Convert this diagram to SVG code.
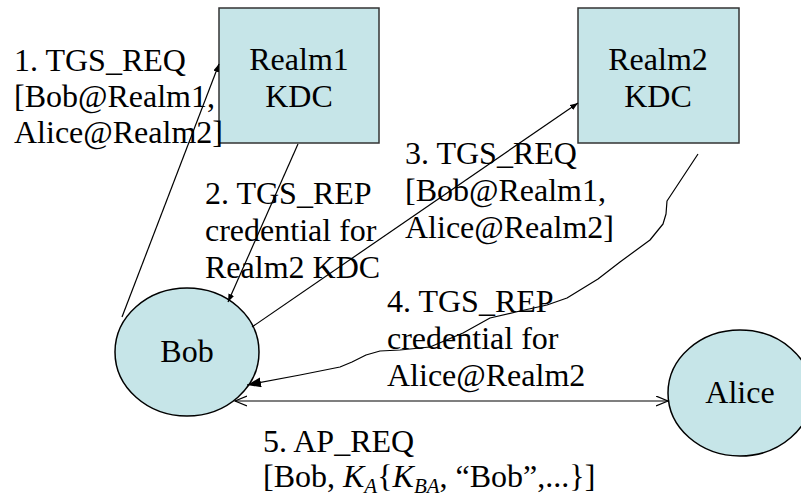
<svg xmlns="http://www.w3.org/2000/svg" width="801" height="502" viewBox="0 0 801 502">
  <style>
    .box { fill: #c6e5e8; stroke: #333; stroke-width: 1.5; }
    .party { fill: #c6e5e8; stroke: #000; stroke-width: 1.5; }
    text { font-size: 32px; fill: #000; }
    .mid { text-anchor: middle; }
    .wire { fill: none; stroke: #000; stroke-width: 1.2; stroke-linejoin: round; }
  </style>
  <defs>
    <marker id="headSmall" markerUnits="userSpaceOnUse" markerWidth="9" markerHeight="7" refX="8" refY="3" orient="auto">
      <path d="M0,0 L8,3 L0,6 z" fill="#000"/>
    </marker>
    <marker id="headLarge" markerUnits="userSpaceOnUse" markerWidth="15" markerHeight="11" refX="14" refY="5" orient="auto">
      <path d="M0,0 L14,5 L0,10 z" fill="#000"/>
    </marker>
    <marker id="headOpen" markerUnits="userSpaceOnUse" markerWidth="14" markerHeight="12" refX="12" refY="5.5" orient="auto-start-reverse">
      <path d="M0,0.5 L12,5.5 L0,10.5" fill="none" stroke="#000" stroke-width="1.2"/>
    </marker>
  </defs>

  <g font-family="'Liberation Serif', 'DejaVu Serif', serif">
    <g id="realm1-kdc">
      <rect class="box" x="219" y="8" width="160" height="135"/>
      <text class="mid" x="299" y="70">Realm1</text>
      <text class="mid" x="299" y="107">KDC</text>
    </g>

    <g id="realm2-kdc">
      <rect class="box" x="578" y="8" width="161" height="135"/>
      <text class="mid" x="658" y="70">Realm2</text>
      <text class="mid" x="658" y="107">KDC</text>
    </g>

    <g id="bob">
      <ellipse class="party" cx="187" cy="352" rx="72" ry="64"/>
      <text class="mid" x="187" y="362">Bob</text>
    </g>

    <g id="alice">
      <ellipse class="party" cx="740" cy="393" rx="72" ry="63"/>
      <text class="mid" x="740" y="403">Alice</text>
    </g>

    <g id="connectors">
      <!-- 1: Bob to Realm1 KDC -->
      <line class="wire" x1="122" y1="317" x2="219" y2="64" marker-end="url(#headSmall)"/>
      <!-- 2: Realm1 KDC to Bob -->
      <line class="wire" x1="298" y1="144" x2="228" y2="302" marker-end="url(#headSmall)"/>
      <!-- 3: Bob to Realm2 KDC -->
      <line class="wire" x1="252" y1="327" x2="578" y2="103" marker-end="url(#headSmall)"/>
      <!-- 4: Realm2 KDC back to Bob, hand-drawn curve -->
      <polyline class="wire" marker-end="url(#headLarge)"
        points="698,154 667,201 666,214 663,224 650,240 620,262 598,279 567,298 547,305 520,311 490,318 463,333 430,347 400,350 380,351 366,355 352,362 340,367 300,375 247,385"/>
      <!-- 5: Bob and Alice, both directions -->
      <line class="wire" x1="235" y1="401" x2="668" y2="401" marker-start="url(#headOpen)" marker-end="url(#headOpen)"/>
    </g>

    <g id="labels">
      <text x="14" y="71">1. TGS_REQ</text>
      <text x="14" y="107">[Bob@Realm1,</text>
      <text x="14" y="143">Alice@Realm2]</text>

      <text x="205" y="204">2. TGS_REP</text>
      <text x="205" y="241">credential for</text>
      <text x="205" y="278">Realm2 KDC</text>

      <text x="405" y="164">3. TGS_REQ</text>
      <text x="405" y="201">[Bob@Realm1,</text>
      <text x="405" y="238">Alice@Realm2]</text>

      <text x="387" y="312">4. TGS_REP</text>
      <text x="387" y="349">credential for</text>
      <text x="387" y="386">Alice@Realm2</text>

      <text x="263" y="452">5. AP_REQ</text>
      <text x="263" y="487">[Bob, <tspan font-style="italic">K</tspan><tspan font-style="italic" font-size="21" dy="6">A</tspan><tspan dy="-6">{</tspan><tspan font-style="italic">K</tspan><tspan font-style="italic" font-size="21" dy="6">BA</tspan><tspan dy="-6">, “Bob”,...}]</tspan></text>
    </g>
  </g>
</svg>
